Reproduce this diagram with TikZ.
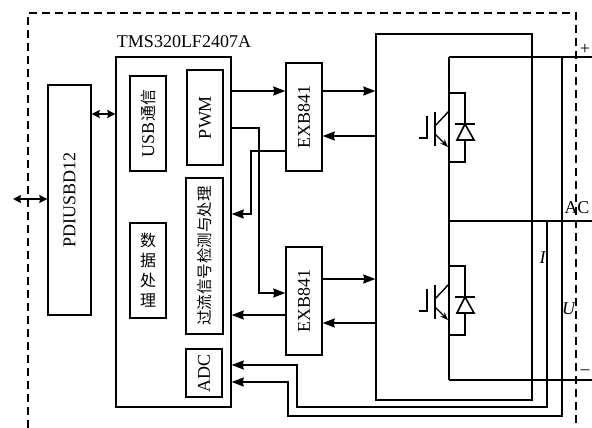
\documentclass[tikz,border=0pt]{standalone}
\usepackage{fontspec}
\setmainfont{Liberation Serif}
\newfontfamily\cjk{Noto Sans CJK SC}
\usetikzlibrary{arrows.meta}
\tikzset{
  block/.style={draw, line width=1.4pt, inner sep=0pt, font=\fontsize{18}{20}\selectfont},
  wire/.style={line width=1.4pt},
  sig/.style={line width=1.4pt, -{Stealth[length=12pt,width=9pt,inset=1pt]}},
  both/.style={line width=1.7pt, {Stealth[length=8pt,width=8pt,inset=1pt]}-{Stealth[length=8pt,width=8pt,inset=1pt]}},
  lab/.style={font=\fontsize{18}{20}\selectfont, inner sep=0pt}
}
\begin{document}
\begin{tikzpicture}[x=1pt,y=-1pt]
      \useasboundingbox (0,0) rectangle (592,428);
      % Enclosing dashed frame
      \draw[line width=1.5pt, dash pattern=on 8pt off 5pt] (28,428) -- (28,13) -- (576,13) -- (576,428);
      % USB chip and controller
      \node[block, minimum width=43pt, minimum height=230pt] (usb) at (69.5,200) {\rotatebox{90}{PDIUSBD12}};
      \node[block, minimum width=115pt, minimum height=350pt] (dsp) at (173.5,232) {};
      \node[lab] (dsplabel) at (184,42) {TMS320LF2407A};
      % Blocks inside the controller
      \node[block, minimum width=36pt, minimum height=95pt] (comm) at (148,123.5) {\rotatebox{90}{USB{\cjk\fontsize{16}{16}\selectfont 通信}}};
      \node[block, minimum width=36pt, minimum height=95pt] (pwm) at (205,117.5) {\rotatebox{90}{PWM}};
      \node[block, minimum width=37pt, minimum height=156pt] (prot) at (204.5,256) {\rotatebox{90}{\cjk\fontsize{15.5}{16}\selectfont 过流信号检测与处理}};
      \node[block, minimum width=36pt, minimum height=95pt, align=center, font=\cjk\fontsize{16}{20}\selectfont] (proc) at (148,270.5) {数\\据\\处\\理};
      \node[block, minimum width=36pt, minimum height=48pt] (adc) at (204,373) {\rotatebox{90}{ADC}};
      % Drivers and power stage frame
      \node[block, minimum width=36pt, minimum height=108pt] (drvtop) at (304,117) {\rotatebox{90}{EXB841}};
      \node[block, minimum width=36pt, minimum height=108pt] (drvbot) at (304,301) {\rotatebox{90}{EXB841}};
      \node[block, minimum width=156pt, minimum height=366pt] (stage) at (454,217) {};
      % Rails on the right
      \coordinate (plus) at (592,57);
      \coordinate (ac) at (592,221);
      \coordinate (minus) at (592,380);
      \coordinate (railtop) at (449,57);
      \coordinate (railbot) at (449,380);
      \draw[wire] (railtop) -- (railbot);
      \draw[line width=1.9pt] (railtop) -- (plus);
      \draw[line width=1.9pt] (railtop |- ac) -- (ac);
      \draw[line width=1.6pt] (railbot) -- (minus);
      % The two switches with their diodes
      \foreach \y in {0,173}{
        \begin{scope}[yshift=-\y pt]
          \draw[line width=1.4pt] (449,93) -- (465,93) -- (465,162) -- (449,162);
          \draw[line width=1.8pt] (435,112) -- (435,146);
          \draw[line width=1.4pt] (419,138) -- (427,138) -- (427,116);
          \draw[line width=1.4pt] (435,126) -- (449,111);
          \draw[line width=1.4pt, -{Stealth[length=8pt,width=6pt]}] (435,134) -- (448,147);
          \draw[line width=2.2pt] (455,124) -- (475,124);
          \draw[line width=1.6pt, fill=white] (465,124) -- (457,140) -- (474,140) -- cycle;
        \end{scope}
      }
      % Connections between USB chip, controller and outside
      \coordinate (ext) at (13,199);
      \draw[both] (ext) -- (ext -| usb.west);
      \draw[both] (usb.east |- 0,114) -- (dsp.west |- 0,114);
      % Controller and drivers
      \draw[sig] (dsp.east |- 0,91) -- (drvtop.west |- 0,91);
      \draw[sig] (dsp.east |- 0,128) -- (259,128) -- (259,293) -- (drvbot.west |- 0,293);
      \draw[sig] (drvtop.west |- 0,151) -- (251,151) -- (251,214) -- (dsp.east |- 0,214);
      \draw[sig] (drvbot.west |- 0,315) -- (dsp.east |- 0,315);
      % Drivers and power stage
      \draw[sig] (drvtop.east |- 0,91) -- (stage.west |- 0,91);
      \draw[sig] (stage.west |- 0,136) -- (drvtop.east |- 0,136);
      \draw[sig] (drvbot.east |- 0,279) -- (stage.west |- 0,279);
      \draw[sig] (stage.west |- 0,323) -- (drvbot.east |- 0,323);
      % Measuring lines back to the ADC
      \draw[sig] (ac -| 547,0) -- (547,407) -- (297,407) -- (297,365) -- (dsp.east |- 0,365);
      \draw[sig] (plus -| 562,0) -- (562,416) -- (288,416) -- (288,382) -- (dsp.east |- 0,382);
      % Labels at the rails
      \node[lab] (pluslabel) at (585,49) {+};
      \node[lab] (aclabel) at (577,208) {AC};
      \node[lab] (minuslabel) at (585,372) {--};
      \node[lab] (ilabel) at (543,258) {\textit{I}};
      \node[lab] (ulabel) at (569,309) {\textit{U}};
\end{tikzpicture}
\end{document}
